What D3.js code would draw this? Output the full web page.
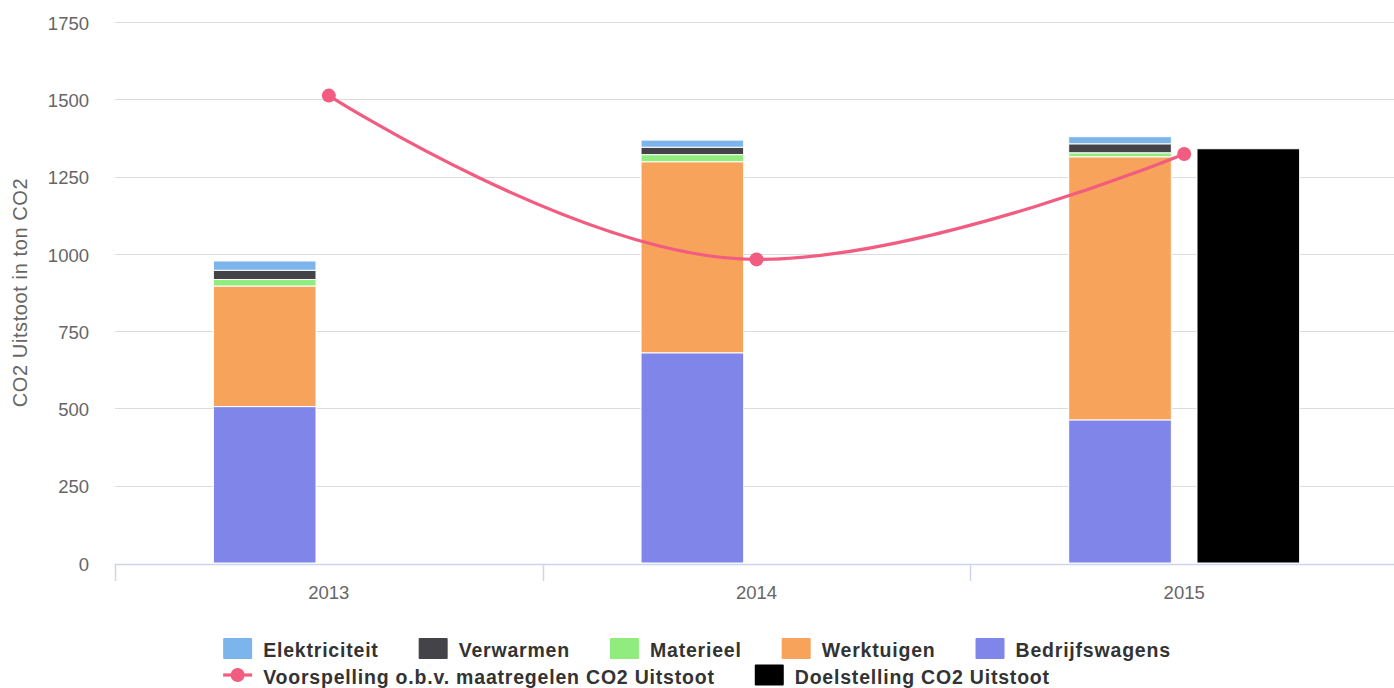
<!DOCTYPE html>
<html>
<head>
<meta charset="utf-8">
<script src="https://cdn.jsdelivr.net/npm/d3@7/dist/d3.min.js"></script>
<style>
  html, body { margin: 0; padding: 0; background: #fff; }
  svg { display: block; font-family: 'Liberation Sans', Arial, Helvetica, sans-serif; }
</style>
</head>
<body>
<svg id="chart" width="1394" height="688"></svg>
<script>
// ---- data ----
const years = ["2013", "2014", "2015"];
const elektriciteit = [30, 23, 23];
const verwarmen = [30, 24, 29];
const materieel = [21, 23, 13];
const werktuigen = [390, 618, 851];
const bedrijfswagens = [506, 680, 463];
const voorspelling = [1512, 982, 1323];
const doelstelling = [null, null, 1340];
const yTicks = [0, 250, 500, 750, 1000, 1250, 1500, 1750];
const yTitle = "CO2 Uitstoot in ton CO2";

const stackSeries = [
  { name: "Elektriciteit", color: "#7cb5ec", values: elektriciteit },
  { name: "Verwarmen", color: "#434348", values: verwarmen },
  { name: "Materieel", color: "#90ed7d", values: materieel },
  { name: "Werktuigen", color: "#f7a35c", values: werktuigen },
  { name: "Bedrijfswagens", color: "#8085e9", values: bedrijfswagens }
];
const lineSeries = { name: "Voorspelling o.b.v. maatregelen CO2 Uitstoot", color: "#f15c80", values: voorspelling };
const targetSeries = { name: "Doelstelling CO2 Uitstoot", color: "#000000", values: doelstelling };

// ---- layout ----
const W = 1394, H = 688;
const plotLeft = 115, plotRight = 1398, plotTop = 22, plotBottom = 563;

const svg = d3.select("#chart");

const x = d3.scaleBand().domain(years).range([plotLeft, plotRight]).paddingInner(0).paddingOuter(0);
const y = d3.scaleLinear().domain([0, 1750]).range([plotBottom, plotTop]);

// gridlines
const grid = svg.append("g").attr("class", "grid");
grid.selectAll("line").data(yTicks.filter(d => d !== 0)).join("line")
  .attr("x1", plotLeft).attr("x2", plotRight)
  .attr("y1", d => Math.round(y(d)) + 0.5).attr("y2", d => Math.round(y(d)) + 0.5)
  .attr("stroke", "#dcdcdc").attr("stroke-width", 1.2);

// y axis labels
const yAxis = d3.axisLeft(y).tickValues(yTicks).tickSize(0).tickPadding(0).tickFormat(d3.format("d"));
const yG = svg.append("g").attr("transform", `translate(89,0)`).call(yAxis);
yG.select(".domain").remove();
yG.selectAll("text")
  .attr("fill", "#666666").attr("font-size", "18.5px")
  .attr("font-family", "'Liberation Sans', Arial, sans-serif")
  .attr("dy", "7.2").attr("x", 0).attr("text-anchor", "end");

// y title
svg.append("text")
  .attr("transform", `translate(26.5,${(plotTop + plotBottom) / 2}) rotate(-90)`)
  .attr("text-anchor", "middle")
  .attr("fill", "#666666").attr("font-size", "20px").attr("letter-spacing", "0.6px")
  .text(yTitle);

// bars geometry (Highcharts-like grouping)
const bw = x.bandwidth();
const groupPad = bw * 0.2;
const slot = (bw - 2 * groupPad) / 2;
const barW = slot * 0.8;
const barOff = slot * 0.1;

// stacked bars
const stackKeys = stackSeries.slice().reverse(); // bottom first
const table = years.map((yr, i) => {
  const row = { year: yr };
  stackSeries.forEach(s => row[s.name] = s.values[i]);
  return row;
});
const stacked = d3.stack().keys(stackKeys.map(s => s.name))(table);
const colorOf = {};
stackSeries.forEach(s => colorOf[s.name] = s.color);

const barsG = svg.append("g");
stacked.forEach(layer => {
  barsG.append("g").attr("fill", colorOf[layer.key])
    .selectAll("rect").data(layer).join("rect")
    .attr("x", d => x(d.data.year) + groupPad + barOff)
    .attr("width", barW)
    .attr("y", d => y(d[1]))
    .attr("height", d => Math.max(0, y(d[0]) - y(d[1])))
    .attr("stroke", "#ffffff").attr("stroke-width", 1);
});

// target bars
barsG.append("g").attr("fill", targetSeries.color)
  .selectAll("rect").data(years.map((yr, i) => ({ year: yr, v: targetSeries.values[i] })).filter(d => d.v != null))
  .join("rect")
  .attr("x", d => x(d.year) + groupPad + slot + barOff)
  .attr("width", barW)
  .attr("y", d => y(d.v))
  .attr("height", d => y(0) - y(d.v))
  .attr("stroke", "#ffffff").attr("stroke-width", 1);

// x axis
const axisY = 564;
svg.append("line").attr("x1", plotLeft).attr("x2", plotRight)
  .attr("y1", axisY + 0.5).attr("y2", axisY + 0.5)
  .attr("stroke", "#ccd6eb").attr("stroke-width", 1.5);
svg.append("g").selectAll("line").data(years).join("line")
  .attr("x1", d => Math.round(x(d)) + 0.5).attr("x2", d => Math.round(x(d)) + 0.5)
  .attr("y1", axisY).attr("y2", axisY + 17)
  .attr("stroke", "#ccd6eb").attr("stroke-width", 1.5);
const xAxis = d3.axisBottom(x).tickSize(0).tickPadding(0);
const xG = svg.append("g").attr("transform", `translate(0,${axisY})`).call(xAxis);
xG.select(".domain").remove();
xG.selectAll("text").attr("fill", "#666666").attr("font-size", "18.5px")
  .attr("font-family", "'Liberation Sans', Arial, sans-serif")
  .attr("dy", null).attr("y", 35);

// spline (Highcharts-style)
function hcSplinePath(pts) {
  const sm = 1.5, den = sm + 1;
  const conts = pts.map((p, i) => {
    if (i === 0 || i === pts.length - 1) return null;
    const [lx, ly] = pts[i - 1], [nx, ny] = pts[i + 1], [px, py] = p;
    let lcx = (sm * px + lx) / den, lcy = (sm * py + ly) / den;
    let rcx = (sm * px + nx) / den, rcy = (sm * py + ny) / den;
    if (rcx !== lcx) {
      const corr = ((rcy - lcy) * (rcx - px)) / (rcx - lcx) + py - rcy;
      lcy += corr; rcy += corr;
    }
    if (lcy > ly && lcy > py) { lcy = Math.max(ly, py); rcy = 2 * py - lcy; }
    else if (lcy < ly && lcy < py) { lcy = Math.min(ly, py); rcy = 2 * py - lcy; }
    if (rcy > py && rcy > ny) { rcy = Math.max(py, ny); lcy = 2 * py - rcy; }
    else if (rcy < py && rcy < ny) { rcy = Math.min(py, ny); lcy = 2 * py - rcy; }
    return { lcx, lcy, rcx, rcy };
  });
  const p = d3.path();
  p.moveTo(pts[0][0], pts[0][1]);
  for (let i = 1; i < pts.length; i++) {
    const prev = conts[i - 1], cur = conts[i];
    const c1x = prev ? prev.rcx : pts[i - 1][0], c1y = prev ? prev.rcy : pts[i - 1][1];
    const c2x = cur ? cur.lcx : pts[i][0], c2y = cur ? cur.lcy : pts[i][1];
    p.bezierCurveTo(c1x, c1y, c2x, c2y, pts[i][0], pts[i][1]);
  }
  return p.toString();
}
const linePts = years.map((yr, i) => [x(yr) + bw / 2, y(lineSeries.values[i])]);
svg.append("path").attr("d", hcSplinePath(linePts))
  .attr("fill", "none").attr("stroke", lineSeries.color).attr("stroke-width", 3.2)
  .attr("stroke-linecap", "round").attr("stroke-linejoin", "round");
svg.append("g").selectAll("circle").data(linePts).join("circle")
  .attr("cx", d => d[0]).attr("cy", d => d[1]).attr("r", 7)
  .attr("fill", lineSeries.color);

// legend
const legendItems = stackSeries.map(s => ({ name: s.name, color: s.color, type: "rect" }))
  .concat([{ name: lineSeries.name, color: lineSeries.color, type: "line" },
           { name: targetSeries.name, color: targetSeries.color, type: "rect" }]);
const legend = svg.append("g");
const symW = 29, symH = 21, textGap = 40, itemDist = 40, maxRowWidth = 1000;
const rowH = 26.5, firstBaseline = 657;
// measure
const items = legendItems.map(it => {
  const t = legend.append("text").attr("font-size", "19.5px").attr("font-weight", "bold")
    .attr("letter-spacing", "0.8px").attr("fill", "#333333").text(it.name);
  const w = t.node().getComputedTextLength();
  return Object.assign({}, it, { textNode: t, w });
});
let rows = [[]], rowW = 0;
items.forEach(it => {
  const iw = textGap + it.w;
  const cur = rows[rows.length - 1];
  const add = (cur.length ? itemDist : 0) + iw;
  if (cur.length && rowW + add > maxRowWidth) { rows.push([it]); rowW = iw; }
  else { cur.push(it); rowW += add; }
});
const rowWidths = rows.map(r => r.reduce((a, it, i) => a + (i ? itemDist : 0) + textGap + it.w, 0));
const legendW = d3.max(rowWidths);
const lx0 = (W - legendW) / 2;
rows.forEach((r, ri) => {
  let cx = lx0;
  const base = firstBaseline + ri * rowH;
  const symCy = base - 8.5;
  r.forEach(it => {
    if (it.type === "rect") {
      legend.append("rect").attr("x", cx).attr("y", symCy - symH / 2)
        .attr("width", symW).attr("height", symH).attr("rx", 1).attr("fill", it.color);
    } else {
      legend.append("line").attr("x1", cx).attr("x2", cx + symW)
        .attr("y1", symCy).attr("y2", symCy)
        .attr("stroke", it.color).attr("stroke-width", 3.2);
      legend.append("circle").attr("cx", cx + symW / 2).attr("cy", symCy).attr("r", 7).attr("fill", it.color);
    }
    it.textNode.attr("x", cx + textGap).attr("y", base);
    cx += textGap + it.w + itemDist;
  });
});
</script>
</body>
</html>
